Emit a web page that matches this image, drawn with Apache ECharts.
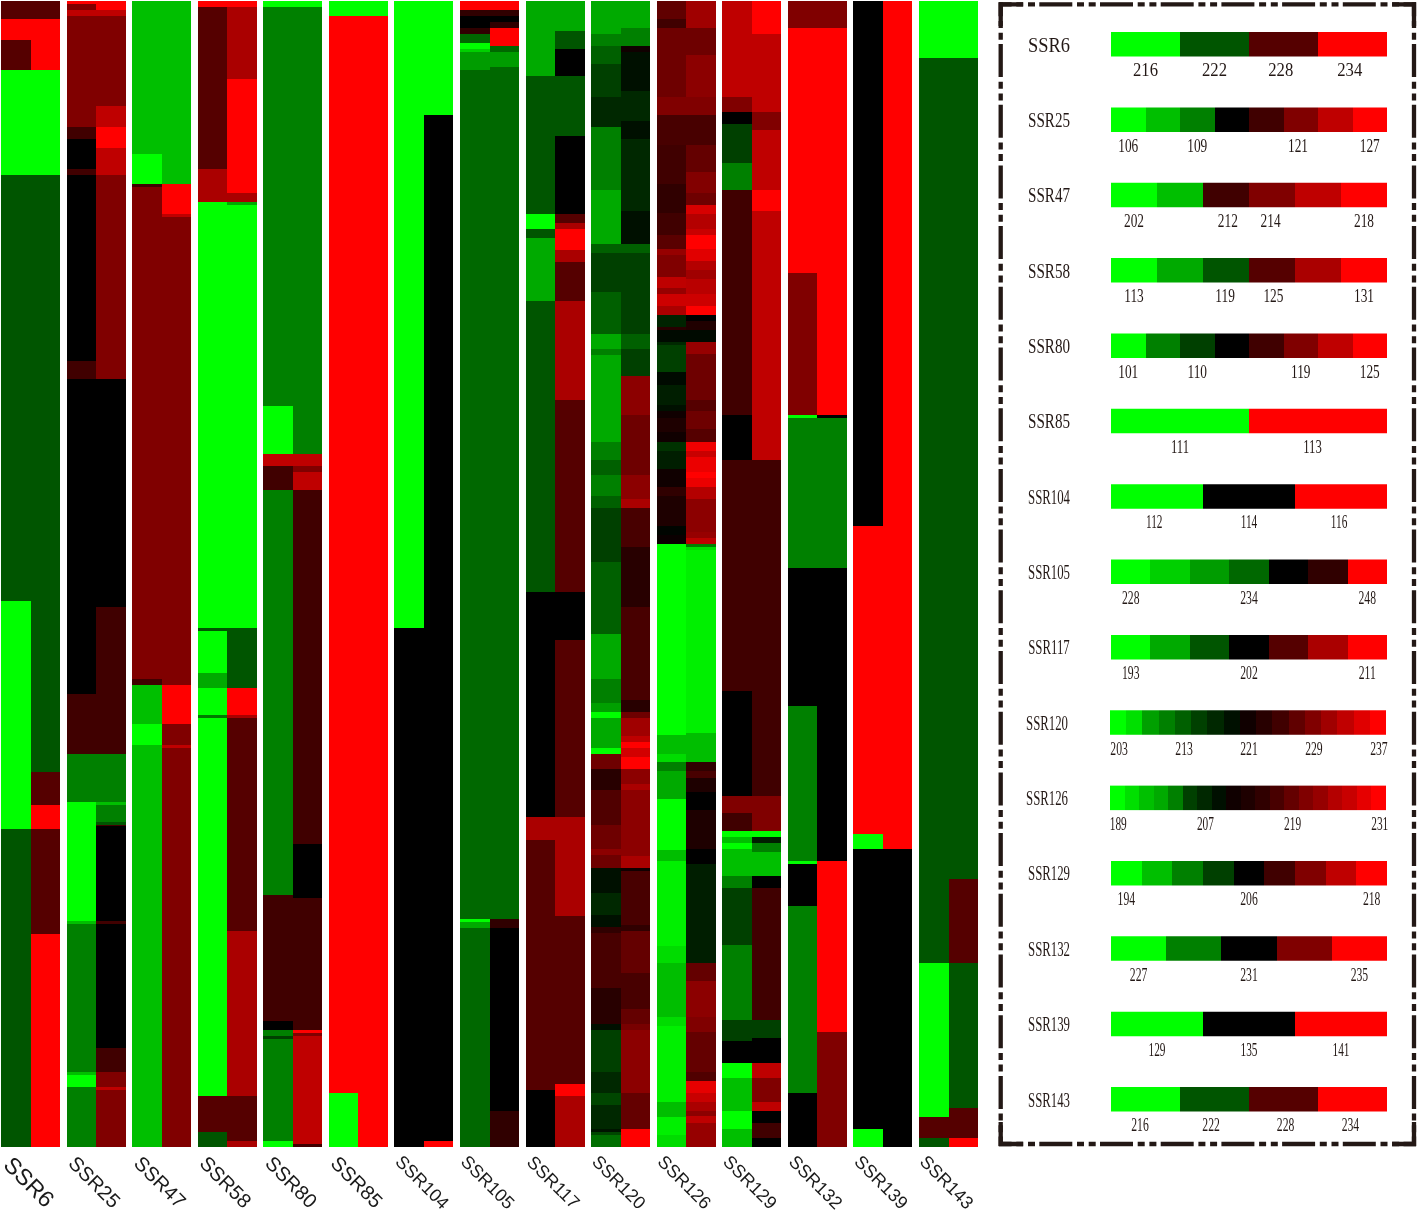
<!DOCTYPE html>
<html>
<head>
<meta charset="utf-8">
<style>html,body{margin:0;background:#fff}#main{width:1418px;height:1212px}</style>
<script src="https://cdn.jsdelivr.net/npm/echarts@6/dist/echarts.min.js"></script>
</head>
<body>
<div id="main"></div>
<script>
const markers = ['SSR6','SSR25','SSR47','SSR58','SSR80','SSR85','SSR104','SSR105','SSR117','SSR120','SSR126','SSR129','SSR132','SSR139','SSR143']
const totalRows = 382

// each run is [row where it ends, level]; level < 0 is green, > 0 is red
const ssr6L = [[6,85],[13,255],[23,85],[58,-255],[200,-85],[276,-255],[382,-85]]
const ssr6R = [[6,85],[23,255],[58,-255],[257,-85],[268,85],[276,255],[311,85],[382,255]]
const ssr25L = [[1,255],[3,128],[5,191],[42,128],[46,64],[56,0],[58,64],[120,0],[126,64],[231,0],[251,64],[267,-128],[306.5,-255],[307.5,-191],[357,-128],[358,-191],[362,-255],[382,-128]]
const ssr25R = [[3,255],[5,191],[35,128],[42,191],[49,255],[58,191],[126,128],[202,0],[251,64],[267,-128],[268,-191],[273.5,-128],[274.5,-85],[275,64],[306.5,0],[307.5,64],[349,0],[357,64],[362,128],[363,191],[382,128]]
const ssr47L = [[51,-191],[61,-255],[62,64],[226,128],[228,64],[241,-191],[248,-255],[382,-191]]
const ssr47R = [[61,-191],[71,255],[72,191],[228,128],[241,255],[248,128],[249,191],[382,128]]
const ssr58L = [[2,255],[56,85],[67,170],[209,-255],[210,-85],[224,-255],[229,-170],[238,-255],[239,-120],[365,-255],[377,85],[382,-85]]
const ssr58R = [[2,255],[26,170],[64,255],[67,170],[68,-170],[209,-255],[229,-85],[238,255],[239,170],[310,85],[365,170],[380,85],[382,170]]
const ssr80L = [[2,-255],[135,-128],[151,-255],[155,191],[163,64],[298,-128],[340,64],[343,0],[345,-128],[346,-64],[380,-128],[382,-255]]
const ssr80R = [[2,-255],[151,-128],[155,191],[157,128],[163,191],[281,64],[299,0],[343,64],[344,255],[345,128],[381,191],[382,64]]
const ssr85L = [[5,-255],[364,255],[382,-255]]
const ssr85R = [[5,-255],[382,255]]
const ssr104L = [[209,-255],[382,0]]
const ssr104R = [[38,-255],[380,0],[382,255]]
const ssr105L = [[3,255],[5,48],[9,0],[11,48],[14,-104],[16,-255],[17,-208],[23,-156],[306,-104],[307,-255],[309,-170],[382,-104]]
const ssr105R = [[3,255],[5,48],[7,0],[9,48],[15,255],[17,-104],[22,-156],[306,-104],[309,48],[370,0],[382,48]]
const ssr117L = [[25,-170],[71,-85],[76,-255],[79,-85],[100,-170],[197,-85],[272,0],[279.5,170],[363,85],[382,0]]
const ssr117R = [[10,-170],[16,-85],[25,0],[45,-85],[71,0],[74,85],[76,170],[83,255],[87,170],[100,85],[133,170],[197,85],[213,0],[272,85],[305,170],[361,85],[365,255],[382,170]]
const ssr120L = [[11,-170],[15,-128],[21,-96],[32,-64],[42,-40],[63,-128],[81,-170],[84,-96],[97,-64],[111,-96],[116,-170],[118,-128],[147,-170],[153,-128],[158,-96],[165,-128],[169,-96],[187,-64],[211,-96],[226,-170],[234,-128],[237,-160],[239,-255],[249,-170],[251,-255],[256,110],[263,40],[274.5,80],[282.5,110],[284.5,140],[289,110],[297.5,-16],[304.5,-40],[308.5,-16],[310.5,48],[329,72],[341,40],[343,-16],[357,-64],[364,-40],[368,-70],[376,-40],[377,-20],[378,-70],[382,-110]]
const ssr120R = [[9,-170],[11,-128],[15,-128],[17,16],[30,-16],[40,-40],[46,-16],[70,-40],[81,-16],[84,-96],[111,-64],[116,-96],[125,-64],[138,140],[158,110],[166,140],[169,170],[182,72],[202,40],[233,72],[237,40],[239,110],[245,160],[247,190],[249,255],[252,210],[256,255],[261,140],[263,170],[285,140],[289,170],[290,16],[308,72],[310,48],[324,100],[336,72],[341,100],[343,120],[364,140],[376,100],[382,255]]
const ssr126L = [[6,96],[9,64],[32,110],[38,128],[48,72],[61,64],[70.5,48],[78,64],[82.5,90],[84.5,150],[92,128],[95.5,190],[97.5,150],[101.5,205],[104.5,170],[108.5,-35],[109.5,40],[113.5,-10],[114.5,-40],[123.5,-64],[128,-10],[134.5,-30],[136.5,-16],[139,16],[143.5,30],[147,16],[150,-50],[156,-30],[162,16],[165,48],[175,30],[178,-5],[181,10],[244.5,-255],[251,-190],[253.5,-220],[256.5,-128],[266,-170],[283,-255],[286.5,-190],[315,-240],[320.5,-220],[338.5,-190],[341.5,-220],[367,-240],[372,-190],[378,-240],[382,-220]]
const ssr126R = [[9,160],[18,110],[32,140],[38,128],[48,72],[57,100],[64,130],[68,110],[71,215],[76,180],[78,200],[82.5,255],[86.5,225],[89.5,180],[92.5,160],[97.5,185],[101.5,205],[104.5,255],[106.5,0],[109.5,32],[113.5,-10],[117.5,150],[133,110],[136.5,85],[142.5,110],[147,85],[150,240],[152,200],[157,235],[159,255],[162,235],[166,180],[177,140],[179,150],[181,190],[182,-128],[183,-220],[244,-240],[253.5,-190],[256.5,48],[259,72],[263.5,30],[269.5,0],[282.5,30],[287.5,0],[320.5,-30],[326.5,100],[338.5,140],[343.5,128],[357,100],[360,80],[364,230],[367,200],[370,170],[371.5,140],[374,190],[382,150]]
const ssr129L = [[32,191],[37,128],[41,0],[54,-64],[63,-128],[138,64],[153,0],[230,64],[265,0],[270.5,128],[276.5,64],[278.5,-255],[280.5,-191],[282.5,-255],[291.5,-191],[295.5,-128],[314.5,-64],[339.5,-128],[346.5,-64],[354,0],[359,-255],[370,-191],[376,-255],[382,-191]]
const ssr129R = [[11,255],[37,191],[43,128],[63,191],[70,255],[153,191],[265,64],[276.5,128],[278.5,-255],[280.5,-30],[283.5,-128],[291.5,-191],[295.5,0],[339.5,64],[345.5,-64],[354,0],[359,191],[367,128],[370,191],[374,0],[379,64],[382,0]]
const ssr132L = [[9,128],[90.5,255],[138,128],[139,-255],[189,-128],[235,0],[286.5,-128],[287.5,-255],[301.5,0],[364,-128],[382,0]]
const ssr132R = [[9,128],[138,255],[139,0],[189,-128],[286.5,0],[343.5,255],[382,128]]
const ssr139L = [[175,0],[277.5,255],[282.5,-255],[376,0],[382,-255]]
const ssr139R = [[282.5,255],[382,0]]
const ssr143L = [[19,-255],[320.5,-85],[372,-255],[379,85],[382,-85]]
const ssr143R = [[19,-255],[292.5,-85],[320.5,85],[369,-85],[379,85],[382,255]]

const leftRuns = [ssr6L,ssr25L,ssr47L,ssr58L,ssr80L,ssr85L,ssr104L,ssr105L,ssr117L,ssr120L,ssr126L,ssr129L,ssr132L,ssr139L,ssr143L]
const rightRuns = [ssr6R,ssr25R,ssr47R,ssr58R,ssr80R,ssr85R,ssr104R,ssr105R,ssr117R,ssr120R,ssr126R,ssr129R,ssr132R,ssr139R,ssr143R]

// legend bars, one level per swatch
const scale4 = [-255,-85,85,255]
const scale8 = [-255,-191,-128,0,64,128,191,255]
const ssr47Scale = [-255,-191,64,128,191,255]
const ssr58Scale = [-255,-170,-85,85,170,255]
const ssr80Scale = [-255,-128,-64,0,64,128,191,255]
const ssr85Scale = [-255,255]
const ssr104Scale = [-255,0,255]
const ssr105Scale = [-255,-208,-156,-104,0,48,255]
const ssr117Scale = [-255,-170,-85,0,85,170,255]
const ssr120Scale = [-255,-224,-160,-128,-96,-64,-40,-16,16,40,64,96,128,160,192,224,255]
const ssr126Scale = [-255,-224,-192,-170,-128,-64,-40,-16,16,30,48,72,100,128,150,180,200,230,255]
const ssr129Scale = [-255,-191,-128,-64,0,64,128,191,255]
const ssr132Scale = [-255,-128,0,128,255]
const legendScales = [scale4,scale8,ssr47Scale,ssr58Scale,ssr80Scale,ssr85Scale,ssr104Scale,ssr105Scale,ssr117Scale,ssr120Scale,ssr126Scale,ssr129Scale,ssr132Scale,ssr104Scale,scale4]

// allele labels, [swatch index, allele]
const ssr6Ticks = [[0,216],[1,222],[1.96,228],[2.96,234]]
const ssr25Ticks = [[0,106],[2,109],[4.92,121],[7,127]]
const ssr47Ticks = [[0,202],[2.04,212],[2.97,214],[5,218]]
const ssr58Ticks = [[0,113],[1.98,119],[3.03,125],[5,131]]
const ssr80Ticks = [[0,101],[2,110],[5,119],[7,125]]
const ssr85Ticks = [[0,111],[0.96,113]]
const ssr104Ticks = [[-0.03,112],[1,114],[1.98,116]]
const ssr105Ticks = [[0,228],[3,234],[6,248]]
const ssr117Ticks = [[0,193],[3,202],[6,211]]
const ssr120Ticks = [[0,203],[4,213],[8,221],[12,229],[16,237]]
const ssr126Ticks = [[0,189],[6,207],[12,219],[18,231]]
const ssr129Ticks = [[0,194],[4,206],[8,218]]
const ssr132Ticks = [[0,227],[2,231],[4,235]]
const ssr139Ticks = [[0,129],[1,135],[2,141]]
const ssr143Ticks = [[-0.08,216],[0.95,222],[2.03,228],[2.97,234]]
const legendTicks = [ssr6Ticks,ssr25Ticks,ssr47Ticks,ssr58Ticks,ssr80Ticks,ssr85Ticks,ssr104Ticks,ssr105Ticks,ssr117Ticks,ssr120Ticks,ssr126Ticks,ssr129Ticks,ssr132Ticks,ssr139Ticks,ssr143Ticks]

const tickWidths = [25,20,20,20,20,19,17,17.5,17.5,17.5,17,17.5,17.5,17,17.5]

const heatData = []
function addRuns(runs, col, side) {
  let start = 0
  runs.forEach(([end, level]) => {
    heatData.push([col, start, end, level, side])
    start = end
  })
}
leftRuns.forEach((runs, i) => addRuns(runs, i, 0))
rightRuns.forEach((runs, i) => addRuns(runs, i, 1))

const legendData = []
legendScales.forEach((levels, row) => {
  levels.forEach((level, i) => {
    legendData.push([i / levels.length, (i + 1) / levels.length, row, level])
  })
})

const tickData = []
legendTicks.forEach((ticks, row) => {
  ticks.forEach(([pos, allele]) => {
    tickData.push([(pos + 0.5) / legendScales[row].length, row, allele])
  })
})

const inkColor = '#231815'
const barHeight = 24.5

function renderHeat(params, api) {
  const top = api.coord([api.value(0), api.value(1)])
  const bottom = api.coord([api.value(0), api.value(2)])
  const w = api.size([1, 0])[0] * 0.45
  const x0 = Math.round(top[0] - w + api.value(4) * w)
  const x1 = Math.round(top[0] + api.value(4) * w)
  const y0 = Math.round(top[1])
  const y1 = Math.round(bottom[1])
  return { type: 'rect', shape: { x: x0, y: y0, width: x1 - x0, height: y1 - y0 }, style: { fill: api.visual('color') } }
}

function renderSwatch(params, api) {
  const row = api.value(2)
  const a = api.coord([api.value(0), row])
  const b = api.coord([api.value(1), row])
  // the two long bars sit a pixel further left in the panel
  const nudge = (markers[row] === 'SSR120' || markers[row] === 'SSR126') ? 1 : 0
  const x0 = Math.round(a[0]) - nudge
  const x1 = Math.round(b[0]) - nudge
  return { type: 'rect', shape: { x: x0, y: a[1] - barHeight / 2, width: x1 - x0, height: barHeight }, style: { fill: api.visual('color') } }
}

function renderMarkerLabel(params, api) {
  const name = markers[api.value(0)]
  const c = api.coord([api.value(0), totalRows])
  const size = name.length === 4 ? 23 : name.length === 5 ? 20 : 18
  return {
    type: 'text', x: c[0] - 2.5, y: 1183, rotation: -Math.PI / 4,
    style: { text: name, fontFamily: 'Liberation Sans', fontSize: size, fill: '#1a1a1a', align: 'center', verticalAlign: 'middle' }
  }
}

function renderLegendName(params, api) {
  const row = api.value(0)
  const c = api.coord([0, row])
  const name = markers[row]
  // every name in the panel is squeezed to the same width
  const digits = name.length - 3
  const shift = (name === 'SSR120' || name === 'SSR126') ? 2 : 0
  return {
    type: 'text', x: 1049 - shift, y: c[1] + 2, scaleX: 42 / (20 * (1.78 + 0.5 * digits)),
    style: { text: name, fontFamily: 'Liberation Serif', fontSize: 20, fill: inkColor, align: 'center', verticalAlign: 'middle' }
  }
}

function renderTick(params, api) {
  const c = api.coord([api.value(0), api.value(1)])
  return {
    type: 'text', x: c[0], y: c[1] + 27, scaleX: tickWidths[api.value(1)] / 28.5,
    style: { text: String(api.value(2)), fontFamily: 'Liberation Serif', fontSize: 19, fill: inkColor, align: 'center', verticalAlign: 'middle' }
  }
}

const frame = { l: 1000.7, r: 1414, t: 4.3, b: 1144 }
const dash = [33, 4.7, 7, 4.7, 7, 4.3]
function frameLine(x1, y1, x2, y2, offset) {
  return {
    type: 'line', silent: true, shape: { x1, y1, x2, y2 },
    style: { stroke: inkColor, lineWidth: 4.3, lineDash: dash, lineDashOffset: offset }
  }
}
function frameCorner(points) {
  return { type: 'polyline', silent: true, shape: { points }, style: { stroke: inkColor, lineWidth: 4.3, fill: null } }
}

const chart = echarts.init(document.getElementById('main'))
chart.setOption({
  animation: false,
  backgroundColor: '#fff',
  grid: [
    { left: 30.5, top: 1, width: 918, height: 1146 },
    { left: 1111, top: 6.6, width: 276, height: 1130.4 }
  ],
  xAxis: [
    { gridIndex: 0, type: 'category', boundaryGap: false, data: markers, show: false },
    { gridIndex: 1, type: 'value', min: 0, max: 1, show: false }
  ],
  yAxis: [
    { gridIndex: 0, type: 'value', min: 0, max: totalRows, inverse: true, show: false },
    { gridIndex: 1, type: 'category', data: markers, inverse: true, show: false }
  ],
  visualMap: {
    show: false, type: 'continuous', seriesIndex: [0, 1], dimension: 3,
    min: -255, max: 255, inRange: { color: ['#00ff00', '#000000', '#ff0000'] }
  },
  series: [
    { type: 'custom', xAxisIndex: 0, yAxisIndex: 0, silent: true, clip: false, renderItem: renderHeat, encode: { x: 0, y: [1, 2] }, data: heatData },
    { type: 'custom', xAxisIndex: 1, yAxisIndex: 1, silent: true, clip: false, renderItem: renderSwatch, encode: { x: [0, 1], y: 2 }, data: legendData },
    { type: 'custom', xAxisIndex: 0, yAxisIndex: 0, silent: true, clip: false, renderItem: renderMarkerLabel, encode: { x: 0 }, data: markers.map((m, i) => [i]) },
    { type: 'custom', xAxisIndex: 1, yAxisIndex: 1, silent: true, clip: false, renderItem: renderLegendName, encode: { y: 0 }, data: markers.map((m, i) => [i]) },
    { type: 'custom', xAxisIndex: 1, yAxisIndex: 1, silent: true, clip: false, renderItem: renderTick, encode: { x: 0, y: 1 }, data: tickData }
  ],
  graphic: [
    frameLine(999, frame.t, 1416, frame.t, 20.4),
    frameLine(999, frame.b, 1416, frame.b, 20.4),
    frameLine(frame.l, 2.2, frame.l, 1146, 18.9),
    frameLine(frame.r, 2.2, frame.r, 1146, 18.9),
    frameCorner([[frame.l, 26], [frame.l, frame.t], [1023, frame.t]]),
    frameCorner([[frame.l, 1122], [frame.l, frame.b], [1023, frame.b]]),
    frameCorner([[1392, frame.t], [frame.r, frame.t], [frame.r, 26]]),
    frameCorner([[1392, frame.b], [frame.r, frame.b], [frame.r, 1122]])
  ]
})
</script>
</body>
</html>
